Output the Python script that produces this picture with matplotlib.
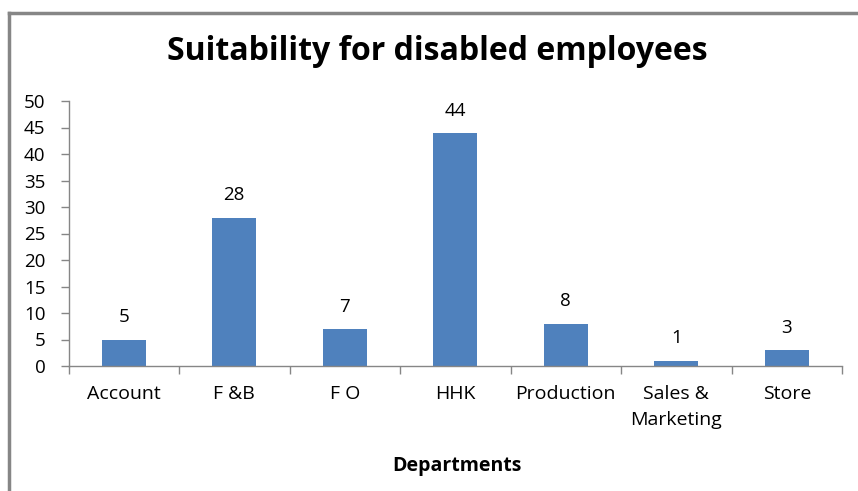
import matplotlib
matplotlib.use("Agg")
from matplotlib import pyplot as plt
from matplotlib.lines import Line2D
import numpy as np

departments = ['Account', 'F &B', 'F O', 'HHK', 'Production', 'Sales &\nMarketing', 'Store']
counts = [5, 28, 7, 44, 8, 1, 3]
yticks = [0, 5, 10, 15, 20, 25, 30, 35, 40, 45, 50]

bar_color = '#4F81BD'
axis_color = '#868686'
plt.rcParams['font.family'] = ['Open Sans', 'DejaVu Sans']

fig = plt.figure(figsize=(8.58, 4.91), dpi=100)
ax = fig.add_axes([68.5 / 858, 125 / 491, (842 - 68.5) / 858, 265 / 491])

x = np.arange(len(departments))
bars = ax.bar(x, counts, width=0.4, color=bar_color, zorder=2)
for xi, v in zip(x, counts):
    ax.text(xi, v + 2.5, str(v), ha='center', va='bottom', fontsize=13.5, color='black')

ax.set_xlim(-0.5, len(departments) - 0.5)
ax.set_ylim(0, 50)
ax.set_yticks(yticks)
ax.set_yticklabels([str(t) for t in yticks], fontsize=13.5)

# category labels centred, tick marks on the category boundaries
ax.set_xticks(x)
ax.set_xticklabels(departments, fontsize=14, linespacing=1.55, va='top')
ax.tick_params(axis='x', which='major', length=0, pad=14)
ax.set_xticks(np.arange(-0.5, len(departments)), minor=True)
ax.tick_params(axis='x', which='minor', length=6, width=1, color=axis_color, direction='out')
ax.tick_params(axis='y', length=6, width=1, color=axis_color, direction='out', pad=10.5)

for side in ['top', 'right']:
    ax.spines[side].set_visible(False)
for side in ['left', 'bottom']:
    ax.spines[side].set_color(axis_color)
    ax.spines[side].set_linewidth(1)

ax.set_xlabel('Departments', fontsize=14, fontweight='bold', labelpad=0)
ax.xaxis.set_label_coords((456.5 - 68.5) / (842 - 68.5), -(456 - 366) / 265)

fig.text(437 / 858, 1 - 52 / 491, 'Suitability for disabled employees',
         ha='center', va='center', fontsize=23, fontweight='bold')

# chart frame, left and top edges
fig.add_artist(Line2D([9 / 858, 9 / 858], [0, 1 - 13 / 491], transform=fig.transFigure,
                      color=axis_color, linewidth=2.5, solid_capstyle='projecting'))
fig.add_artist(Line2D([9 / 858, 1], [1 - 13 / 491, 1 - 13 / 491], transform=fig.transFigure,
                      color=axis_color, linewidth=2.5, solid_capstyle='projecting'))

fig.savefig('out.png', dpi=100, facecolor='white')
